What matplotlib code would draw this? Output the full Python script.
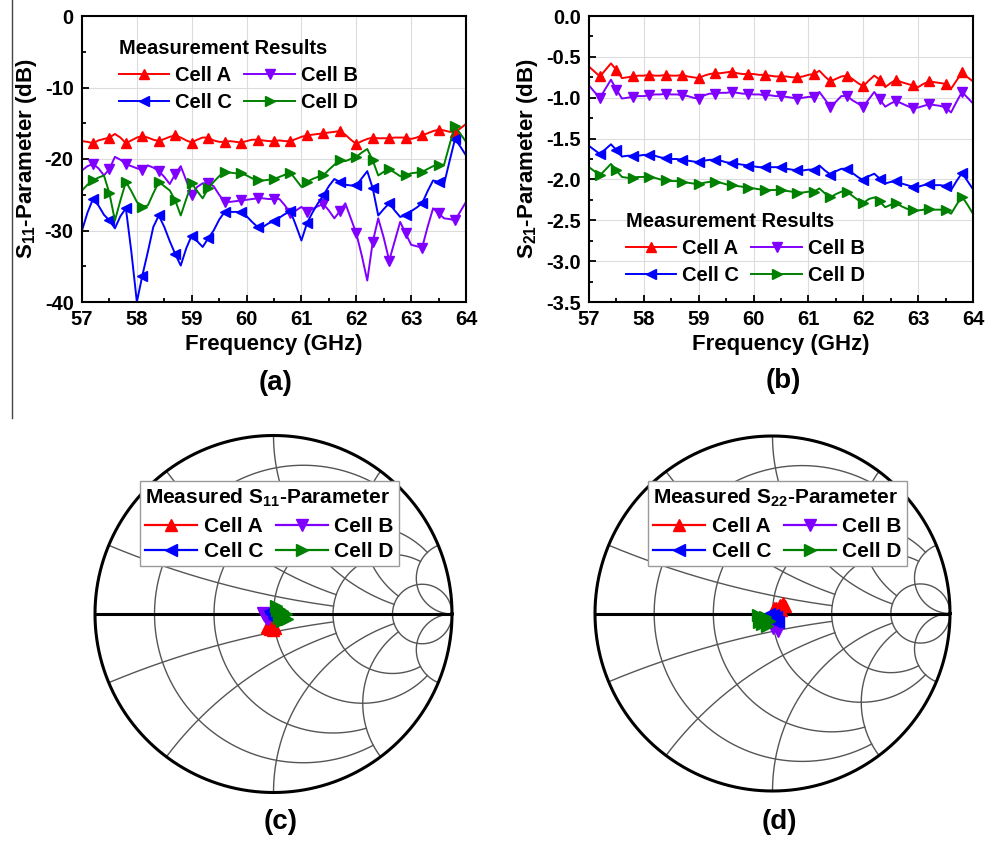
import numpy as np
import matplotlib
matplotlib.use("Agg")
import matplotlib.pyplot as plt
from matplotlib.lines import Line2D
from matplotlib.ticker import MultipleLocator

plt.rcParams["font.family"] = ["Liberation Sans", "DejaVu Sans"]
plt.rcParams["font.weight"] = "bold"
plt.rcParams["axes.labelweight"] = "bold"
plt.rcParams["axes.unicode_minus"] = False
plt.rcParams["mathtext.fontset"] = "custom"
plt.rcParams["mathtext.rm"] = "Liberation Sans:bold"
plt.rcParams["mathtext.it"] = "Liberation Sans:bold"
plt.rcParams["mathtext.bf"] = "Liberation Sans:bold"

# frequency grid (GHz), 0.1 GHz step
freq = np.round(np.arange(57.0, 64.01, 0.1), 1)

# (a) S11 in dB
s11_a = [-17.5, -17.6, -17.8, -17.4, -17.2, -17.0, -16.5, -17.0, -17.8, -17.4,
         -17.0, -16.8, -17.0, -17.3, -17.5, -17.2, -16.9, -16.7, -17.0, -17.4,
         -17.7, -17.3, -17.0, -17.0, -17.4, -17.6, -17.6, -17.5, -17.6, -17.7,
         -17.5, -17.3, -17.3, -17.4, -17.5, -17.5, -17.4, -17.5, -17.5, -17.2,
         -16.9, -16.7, -16.6, -16.5, -16.4, -16.3, -16.2, -16.1, -16.6, -17.3,
         -17.9, -17.5, -17.2, -17.0, -17.1, -17.1, -17.1, -17.0, -17.0, -17.0,
         -17.2, -17.0, -16.7, -16.4, -16.1, -15.9, -16.0, -16.2, -16.2, -15.7,
         -15.1]
s11_b = [-21.6, -21.0, -20.7, -21.3, -22.3, -21.4, -19.7, -20.1, -20.7, -21.0,
         -21.3, -21.5, -20.9, -21.2, -21.7, -22.5, -23.5, -22.1, -21.0, -23.0,
         -25.0, -23.9, -23.4, -23.4, -23.8, -25.0, -26.0, -26.0, -25.9, -25.8,
         -25.7, -25.6, -25.5, -25.5, -25.6, -25.6, -25.6, -26.5, -27.6, -27.2,
         -26.7, -27.4, -27.0, -26.6, -26.3, -27.2, -28.3, -27.3, -26.2, -28.3,
         -30.4, -33.5, -37.0, -31.6, -28.3, -31.0, -34.2, -31.5, -28.8, -30.4,
         -32.0, -32.2, -32.4, -29.5, -26.9, -27.6, -28.3, -28.4, -28.6, -27.3,
         -26.0]
s11_c = [-30.0, -27.5, -25.6, -26.5, -27.8, -28.6, -29.7, -28.0, -26.9, -33.0,
         -40.0, -36.3, -33.0, -29.5, -27.9, -29.5, -31.5, -33.3, -34.9, -32.5,
         -30.7, -31.5, -32.3, -31.1, -30.0, -28.5, -27.4, -27.4, -27.4, -27.4,
         -28.0, -28.8, -29.5, -29.5, -29.0, -28.7, -28.2, -27.7, -27.3, -29.3,
         -31.4, -29.0, -27.5, -26.2, -25.1, -23.8, -22.8, -23.2, -23.6, -23.7,
         -23.7, -22.7, -21.7, -24.1, -27.9, -27.0, -26.2, -27.2, -28.1, -27.9,
         -27.3, -26.8, -26.2, -24.5, -23.0, -23.2, -23.5, -20.3, -17.2, -18.3,
         -19.5]
s11_d = [-24.4, -23.6, -23.0, -22.6, -22.3, -24.8, -28.6, -25.8, -23.2, -24.5,
         -26.0, -26.7, -26.5, -24.8, -23.2, -23.8, -24.4, -25.8, -27.9, -25.6,
         -23.4, -24.5, -25.5, -24.1, -23.2, -22.4, -21.8, -21.9, -22.0, -22.0,
         -22.3, -22.7, -23.0, -23.0, -22.9, -22.8, -22.5, -22.2, -21.9, -22.9,
         -23.9, -23.2, -22.8, -22.5, -22.3, -21.5, -20.8, -20.2, -20.3, -20.0,
         -19.7, -19.1, -18.6, -20.2, -22.3, -21.8, -21.4, -21.9, -22.4, -22.3,
         -22.0, -21.9, -21.8, -21.4, -21.0, -20.9, -20.8, -18.0, -15.4, -16.5,
         -17.6]

# (b) S21 in dB
s21_a = [-0.62, -0.68, -0.74, -0.66, -0.58, -0.66, -0.76, -0.75, -0.74, -0.73,
         -0.73, -0.72, -0.73, -0.73, -0.72, -0.73, -0.73, -0.72, -0.74, -0.75,
         -0.76, -0.73, -0.71, -0.70, -0.70, -0.69, -0.68, -0.70, -0.71, -0.71,
         -0.71, -0.72, -0.72, -0.73, -0.74, -0.74, -0.74, -0.75, -0.75, -0.74,
         -0.72, -0.71, -0.67, -0.74, -0.80, -0.77, -0.74, -0.73, -0.77, -0.82,
         -0.86, -0.79, -0.73, -0.78, -0.87, -0.82, -0.78, -0.81, -0.83, -0.85,
         -0.87, -0.83, -0.80, -0.81, -0.82, -0.83, -0.89, -0.79, -0.69, -0.75,
         -0.80]
s21_b = [-0.85, -0.93, -1.00, -0.89, -0.78, -0.90, -1.01, -1.00, -0.99, -0.98,
         -0.98, -0.97, -0.96, -0.96, -0.95, -0.96, -0.96, -0.97, -0.98, -1.00,
         -1.01, -0.97, -0.95, -0.95, -0.94, -0.94, -0.93, -0.94, -0.95, -0.95,
         -0.96, -0.96, -0.97, -0.97, -0.98, -0.98, -0.99, -1.00, -1.01, -1.00,
         -0.99, -0.99, -0.93, -1.02, -1.11, -1.05, -0.98, -0.98, -1.03, -1.07,
         -1.11, -1.02, -0.93, -1.02, -1.11, -1.07, -1.04, -1.07, -1.10, -1.13,
         -1.12, -1.10, -1.08, -1.09, -1.10, -1.12, -1.18, -1.05, -0.93, -1.00,
         -1.07]
s21_c = [-1.59, -1.64, -1.69, -1.63, -1.57, -1.64, -1.72, -1.71, -1.71, -1.71,
         -1.70, -1.70, -1.71, -1.73, -1.74, -1.75, -1.75, -1.76, -1.77, -1.78,
         -1.79, -1.77, -1.76, -1.76, -1.77, -1.79, -1.80, -1.81, -1.82, -1.83,
         -1.84, -1.85, -1.85, -1.85, -1.85, -1.85, -1.87, -1.88, -1.89, -1.89,
         -1.88, -1.88, -1.83, -1.89, -1.94, -1.90, -1.87, -1.87, -1.92, -1.97,
         -2.01, -1.96, -1.93, -1.99, -2.05, -2.03, -2.02, -2.05, -2.07, -2.09,
         -2.09, -2.07, -2.06, -2.07, -2.07, -2.08, -2.13, -2.02, -1.92, -2.02,
         -2.12]
s21_d = [-1.85, -1.90, -1.95, -1.88, -1.81, -1.89, -1.97, -1.98, -1.98, -1.97,
         -1.97, -1.97, -1.98, -2.00, -2.01, -2.02, -2.02, -2.03, -2.04, -2.05,
         -2.06, -2.04, -2.03, -2.03, -2.04, -2.06, -2.07, -2.08, -2.09, -2.10,
         -2.11, -2.12, -2.13, -2.13, -2.13, -2.13, -2.14, -2.15, -2.16, -2.16,
         -2.15, -2.15, -2.11, -2.17, -2.22, -2.18, -2.15, -2.15, -2.20, -2.25,
         -2.29, -2.24, -2.22, -2.27, -2.34, -2.31, -2.29, -2.33, -2.36, -2.38,
         -2.38, -2.37, -2.36, -2.37, -2.37, -2.38, -2.42, -2.31, -2.21, -2.31,
         -2.42]

# (c) measured S11, reflection coefficient (real, imag)
c_re_a = [-0.035, -0.02, -0.005, 0.01, 0.005, -0.015, -0.03]
c_im_a = [-0.075, -0.085, -0.09, -0.08, -0.07, -0.065, -0.08]
c_re_b = [-0.06, -0.05, -0.04, -0.03, -0.025, -0.045, -0.055]
c_im_b = [0.005, -0.01, -0.025, -0.03, -0.015, 0.0, -0.005]
c_re_c = [-0.02, -0.01, 0.0, 0.01, 0.005, -0.005, -0.015]
c_im_c = [0.015, 0.0, -0.02, -0.03, -0.01, 0.01, 0.005]
c_re_d = [0.015, 0.03, 0.05, 0.07, 0.075, 0.05, 0.03, 0.02]
c_im_d = [0.045, 0.03, 0.015, 0.0, -0.03, -0.04, -0.02, 0.02]

# (d) measured S22
d_re_a = [0.0, 0.02, 0.04, 0.06, 0.07, 0.05, 0.03, 0.01]
d_im_a = [0.01, 0.03, 0.05, 0.06, 0.04, 0.02, 0.015, 0.03]
d_re_b = [0.0, 0.01, 0.02, 0.03, 0.025, 0.01, 0.005]
d_im_b = [-0.03, -0.05, -0.07, -0.1, -0.06, -0.04, -0.08]
d_re_c = [-0.02, -0.005, 0.01, 0.03, 0.02, 0.0, -0.01]
d_im_c = [0.0, -0.02, -0.04, -0.05, -0.02, -0.01, -0.03]
d_re_d = [-0.08, -0.07, -0.05, -0.03, -0.02, -0.04, -0.06, -0.075]
d_im_d = [-0.01, -0.03, -0.05, -0.07, -0.04, -0.02, -0.06, -0.05]

cells = ["Cell A", "Cell B", "Cell C", "Cell D"]
colors = ["#ff0000", "#8000ff", "#0000ff", "#008000"]
markers = ["^", "v", "<", ">"]

W, H = 985, 842
fig = plt.figure(figsize=(W / 100, H / 100), dpi=100)


def px_axes(left, top, right, bottom):
    return fig.add_axes([left / W, 1 - bottom / H, (right - left) / W, (bottom - top) / H])


def style_rect(ax):
    for sp in ax.spines.values():
        sp.set_linewidth(1.5)
    ax.tick_params(which="both", direction="in", labelsize=14.5, width=1.3)
    ax.tick_params(which="major", length=5, pad=6)
    ax.tick_params(which="minor", length=3)
    ax.set_xlim(57, 64)
    ax.xaxis.set_major_locator(MultipleLocator(1))
    ax.xaxis.set_minor_locator(MultipleLocator(0.5))
    ax.grid(True, which="major", color="#dcdcdc", lw=0.8)
    ax.set_axisbelow(True)
    ax.set_xlabel("Frequency (GHz)", fontsize=16, labelpad=3)


def legend(ax, handles, title, anchor, size, frame, spacing):
    order = [handles[0], handles[2], handles[1], handles[3]]
    leg = ax.legend(handles=order, ncol=2, title=title, loc="upper left",
                    bbox_to_anchor=(anchor[0] / W, 1 - anchor[1] / H),
                    bbox_transform=fig.transFigure, frameon=frame, fontsize=size,
                    title_fontproperties={"weight": "bold", "size": size},
                    alignment="left", handlelength=2.5, handletextpad=0.3,
                    columnspacing=0.6, labelspacing=spacing, borderpad=0.25 if frame else 0,
                    borderaxespad=0, fancybox=False, framealpha=1, edgecolor="#9a9a9a")
    leg.get_frame().set_linewidth(1.0)
    leg._legend_box.sep = 6
    return leg


# ---- (a)
ax1 = px_axes(82, 16, 466, 302)
lines = []
for y, lab, c, m in zip([s11_a, s11_b, s11_c, s11_d], cells, colors, markers):
    (ln,) = ax1.plot(freq, y, color=c, marker=m, markevery=(2, 3), ms=7, lw=1.4, label=lab)
    lines.append(ln)
style_rect(ax1)
ax1.set_ylim(-40, 0)
ax1.yaxis.set_major_locator(MultipleLocator(10))
ax1.yaxis.set_minor_locator(MultipleLocator(5))
ax1.set_ylabel(r"S$_{\mathrm{11}}$-Parameter (dB)", fontsize=16, labelpad=4)
legend(ax1, lines, "Measurement Results", (119, 39), 14.5, False, 0.4)

# ---- (b)
ax2 = px_axes(589, 16, 973, 302)
lines = []
for y, lab, c, m in zip([s21_a, s21_b, s21_c, s21_d], cells, colors, markers):
    (ln,) = ax2.plot(freq, y, color=c, marker=m, markevery=(2, 3), ms=7, lw=1.4, label=lab)
    lines.append(ln)
style_rect(ax2)
ax2.set_ylim(-3.5, 0)
ax2.yaxis.set_major_locator(MultipleLocator(0.5))
ax2.yaxis.set_minor_locator(MultipleLocator(0.25))
ax2.yaxis.set_major_formatter(lambda v, p: f"{v:.1f}")
ax2.set_ylabel(r"S$_{\mathrm{21}}$-Parameter (dB)", fontsize=16, labelpad=4)
legend(ax2, lines, "Measurement Results", (626, 212), 14.5, False, 0.4)


# ---- Smith charts
def smith_grid(ax):
    gc = "#555555"
    for r, xmax in [(0.2, 2), (0.5, 2), (1, 5), (2, 5), (5, None)]:
        if xmax is None:
            xs = np.tan(np.linspace(-1.5705, 1.5705, 900))
        else:
            xs = np.linspace(-xmax, xmax, 600)
        g = (r + 1j * xs - 1) / (r + 1j * xs + 1)
        ax.plot(g.real, g.imag, color=gc, lw=1.0)
    for x, rmax in [(0.2, 2), (0.5, 2), (1, 5), (2, 5), (5, None)]:
        if rmax is None:
            rs = np.tan(np.linspace(0, 1.5705, 900))
        else:
            rs = np.linspace(0, rmax, 600)
        for s in (1, -1):
            g = (rs + 1j * s * x - 1) / (rs + 1j * s * x + 1)
            ax.plot(g.real, g.imag, color=gc, lw=1.0)
    th = np.linspace(0, 2 * np.pi, 721)
    ax.plot(np.cos(th), np.sin(th), color="black", lw=2.2, clip_on=False)
    ax.plot([-1, 1], [0, 0], color="black", lw=2.2)
    ax.set_xlim(-1, 1)
    ax.set_ylim(-1, 1)
    ax.axis("off")


def smith(box, data, title, leg_anchor):
    ax = px_axes(*box)
    smith_grid(ax)
    lines = []
    for (re, im), lab, c, m in zip(data, cells, colors, markers):
        (ln,) = ax.plot(re, im, color=c, marker=m, ms=8, lw=1.6, label=lab)
        lines.append(ln)
    legend(ax, lines, title, leg_anchor, 15, True, 0.3)
    return ax


smith((95, 435.5, 452, 792.5),
      [(c_re_a, c_im_a), (c_re_b, c_im_b), (c_re_c, c_im_c), (c_re_d, c_im_d)],
      r"Measured S$_{\mathrm{11}}$-Parameter", (140, 481))
smith((595, 436, 950, 791),
      [(d_re_a, d_im_a), (d_re_b, d_im_b), (d_re_c, d_im_c), (d_re_d, d_im_d)],
      r"Measured S$_{\mathrm{22}}$-Parameter", (648, 481))

# panel labels
for x, y, t in [(276, 383, "(a)"), (783, 381, "(b)"), (281, 822, "(c)"), (779, 822, "(d)")]:
    fig.text(x / W, 1 - y / H, t, fontsize=20, fontweight="bold", ha="center", va="center")

# thin separator line at the left edge
fig.add_artist(Line2D([11.5 / W, 11.5 / W], [1, 1 - 418 / H], color="#444444", lw=1))

fig.savefig("out.png", dpi=100)
